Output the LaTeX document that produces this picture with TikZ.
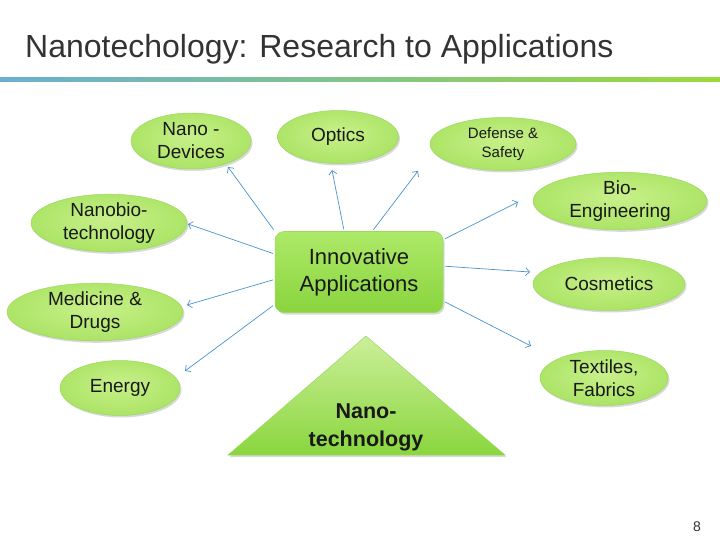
\documentclass[tikz,border=0pt]{standalone}
\usepackage{fontspec}
\setmainfont{Liberation Sans}
\usetikzlibrary{shapes.geometric, shadows, arrows.meta}
\definecolor{glight}{HTML}{C8F08A}
\definecolor{gmid}{HTML}{ACE466}
\definecolor{gdark}{HTML}{8CD142}
\definecolor{gline}{HTML}{9CD862}
\definecolor{innotop}{HTML}{ADE968}
\definecolor{innobot}{HTML}{8AD43E}
\definecolor{tritop}{HTML}{CCEF9A}
\definecolor{tribot}{HTML}{8AD63E}
\definecolor{arrblue}{HTML}{4A92CC}
\definecolor{barblue}{HTML}{6AAFD2}
\definecolor{bargreen}{HTML}{9BDA3A}
\pgfdeclareradialshading{bubble}{\pgfpoint{0bp}{4bp}}{color(0bp)=(glight); color(26bp)=(gmid); color(50bp)=(gdark)}
\tikzset{%
    app/.style={ellipse, draw=gline, line width=0.5pt, shading=bubble, inner sep=0pt,
        align=center, text=black!90, font=\fontsize{19}{23}\selectfont,
        drop shadow={shadow xshift=1.5pt, shadow yshift=-2pt, opacity=0.3}}
}

\begin{document}
\begin{tikzpicture}[
        x=1pt, y=-1pt,
        inno/.style={rectangle, rounded corners=9pt, draw=gline, line width=0.5pt,
            top color=innotop, bottom color=innobot, minimum width=168pt, minimum height=81pt,
            align=center, text=black!90, font=\fontsize{22}{27}\selectfont,
            drop shadow={shadow xshift=1.5pt, shadow yshift=-2pt, opacity=0.3}},
        arr/.style={draw=arrblue, line width=0.7pt, shorten <=2pt, -{Straight Barb[length=4pt, width=8pt]}}
        ]
        \useasboundingbox (0,0) rectangle (720,540);

        % title and bar
        \node[anchor=base west, inner sep=0pt, text=black!80, font=\fontsize{32}{38}\selectfont] (title) at (25,57.5) {Nanotechology: Research to Applications};
        \shade[left color=barblue, right color=bargreen] (0,77.5) rectangle (720,81.5);

        % applications
        \node[app, minimum width=120pt, minimum height=56pt] (nd) at (191,141) {Nano -\\Devices};
        \node[app, minimum width=121pt, minimum height=53pt] (opt) at (338,137) {Optics};
        \node[app, minimum width=146pt, minimum height=53pt, font=\fontsize{15}{19}\selectfont] (def) at (503,144) {Defense \&\\Safety};
        \node[app, minimum width=174pt, minimum height=54pt] (bio) at (620,201) {Bio-\\Engineering};
        \node[app, minimum width=156pt, minimum height=55pt] (nbt) at (109,223) {Nanobio-\\technology};
        \node[app, minimum width=176pt, minimum height=54pt] (med) at (95,312) {Medicine \&\\Drugs};
        \node[app, minimum width=120pt, minimum height=55pt] (en) at (120,388) {Energy};
        \node[app, minimum width=152pt, minimum height=53pt] (cos) at (609,284) {Cosmetics};
        \node[app, minimum width=128pt, minimum height=55pt] (tex) at (604,378) {Textiles,\\Fabrics};

        \node[inno] (inno) at (359,272) {Innovative\\Applications};

        % base triangle
        \path[draw=gline, line width=0.5pt, top color=tritop, bottom color=tribot,
            drop shadow={shadow xshift=1.5pt, shadow yshift=-2pt, opacity=0.3}]
            (366,336) -- (505,455) -- (228,455) -- cycle;
        \node[align=center, text=black!90, font=\bfseries\fontsize{21.5}{28}\selectfont] (nano) at (366,427) {Nano-\\technology};

        \draw[arr] (inno.north west) -- ([shift={(37,26)}]nd.center);
        \draw[arr] (inno.110) -- ([shift={(-6,33)}]opt.center);
        \draw[arr] (inno.72) -- ([shift={(-85,27)}]def.center);
        \draw[arr] (inno.21) -- ([shift={(-102,1)}]bio.center);
        \draw[arr] (inno.168) -- ([shift={(79,1)}]nbt.center);
        \draw[arr] (inno.185) -- ([shift={(92,-7)}]med.center);
        \draw[arr] (inno.201) -- ([shift={(65,-17)}]en.center);
        \draw[arr] (inno.4) -- ([shift={(-79,-12)}]cos.center);
        \draw[arr] (inno.-19) -- ([shift={(-73,-32)}]tex.center);

        \node[text=black!80, font=\fontsize{14}{16}\selectfont] (page) at (697,527) {8};
    \end{tikzpicture}
\end{document}
